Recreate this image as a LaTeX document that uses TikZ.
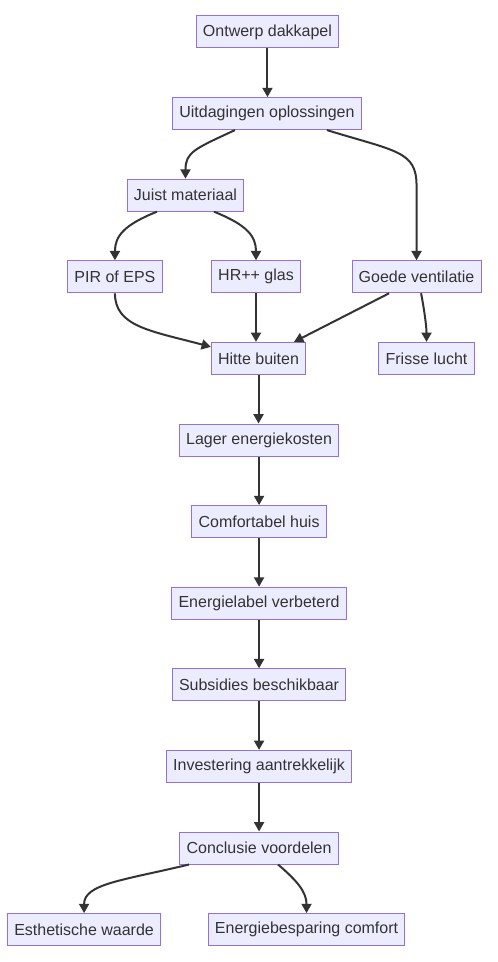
\documentclass[tikz,border=0pt]{standalone}
\usepackage{fontspec}
\setmainfont{Liberation Sans}
\usepackage{tikz}
\usetikzlibrary{arrows.meta, positioning, calc}
\definecolor{boxfill}{HTML}{ECECFF}
\definecolor{boxborder}{HTML}{9370DB}
\definecolor{boxtext}{HTML}{333333}
\definecolor{arrowgray}{HTML}{333333}
\tikzset{
  block/.style={rectangle, minimum height=24pt, inner xsep=5pt, inner ysep=0pt,
    align=center, draw=boxborder, line width=0.75pt, fill=boxfill,
    text=boxtext, font=\fontsize{12}{14}\selectfont},
  arrow/.style={-{Triangle[length=7pt,width=7.5pt]}, line width=1.5pt, color=arrowgray},
}
\begin{document}
\begin{tikzpicture}[node distance=36.45pt]
  \useasboundingbox (0,0) rectangle (372.75pt,-721.5pt);
  \node[block] (ontwerp) at (200.6pt,-24pt) {Ontwerp dakkapel};
  \node[block, below=of ontwerp, xshift=-0.4pt] (uitdaging) {Uitdagingen oplossingen};
  \node[block, below=of uitdaging, xshift=-61.1pt] (materiaal) {Juist materiaal};
  \node[block, below=of materiaal, xshift=-52.9pt] (pir) {PIR of EPS};
  \node[block, below=of materiaal, xshift=52.9pt] (glas) {HR++ glas};
  \node[block, below=of materiaal, xshift=173.3pt] (ventilatie) {Goede ventilatie};
  \node[block, below=of glas, xshift=1.9pt] (hitte) {Hitte buiten};
  \node[block, below=of ventilatie, xshift=7.5pt] (lucht) {Frisse lucht};
  \node[block, below=of hitte, xshift=0.4pt] (kosten) {Lager energiekosten};
  \node[block, below=of kosten] (huis) {Comfortabel huis};
  \node[block, below=of huis] (label) {Energielabel verbeterd};
  \node[block, below=of label] (subsidie) {Subsidies beschikbaar};
  \node[block, below=of subsidie] (investering) {Investering aantrekkelijk};
  \node[block, below=of investering] (conclusie) {Conclusie voordelen};
  \node[block, below=of conclusie, xshift=-131.25pt] (esthetiek) {Esthetische waarde};
  \node[block, below=of conclusie, xshift=35.6pt] (besparing) {Energiebesparing comfort};

  \draw[arrow] (ontwerp.south) -- (ontwerp.south |- uitdaging.north);
  \draw[arrow] ([xshift=-24pt]uitdaging.south) .. controls +(-30pt,-14pt) and +(0,20pt) .. (materiaal.north);
  \draw[arrow] ([xshift=45pt]uitdaging.south) .. controls +(52pt,-16pt) and +(0,26pt)
    .. ($(ventilatie.north)+(0,56pt)$) -- (ventilatie.north);
  \draw[arrow] ([xshift=-21.4pt]materiaal.south) .. controls +(-25pt,-10pt) and +(0,18pt) .. (pir.north);
  \draw[arrow] ([xshift=21.4pt]materiaal.south) .. controls +(25pt,-10pt) and +(0,18pt) .. (glas.north);
  \draw[arrow] (pir.south) .. controls +(0,-25pt) and +(-45pt,12pt) .. ([yshift=-3.75pt]hitte.north west);
  \draw[arrow] (glas.south) -- (glas.south |- hitte.north);
  \draw[arrow] ([xshift=-20.6pt]ventilatie.south) -- ([xshift=26.6pt]hitte.north);
  \draw[arrow] ([xshift=3.4pt]ventilatie.south) .. controls +(2pt,-10pt) and +(0,12pt) .. (lucht.north);
  \draw[arrow] (hitte.south) -- (hitte.south |- kosten.north);
  \draw[arrow] (kosten) -- (huis);
  \draw[arrow] (huis) -- (label);
  \draw[arrow] (label) -- (subsidie);
  \draw[arrow] (subsidie) -- (investering);
  \draw[arrow] (investering) -- (conclusie);
  \draw[arrow] ([xshift=-52.5pt]conclusie.south) .. controls +(-50pt,-12pt) and +(0,22pt) .. (esthetiek.north);
  \draw[arrow] ([xshift=14.25pt]conclusie.south) .. controls +(14pt,-12pt) and +(0,16pt) .. (besparing.north);
\end{tikzpicture}
\end{document}
